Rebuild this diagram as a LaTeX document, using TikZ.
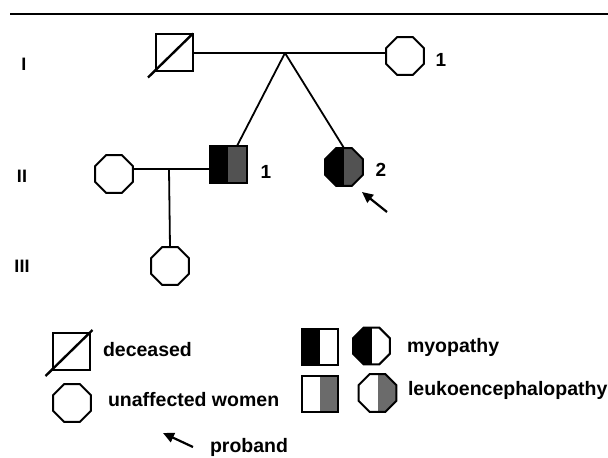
\documentclass[tikz,border=0pt]{standalone}
\usepackage{fontspec}
\setmainfont{Liberation Sans}
\usetikzlibrary{shapes.geometric,arrows.meta,calc}
\begin{document}
\begin{tikzpicture}[x=1pt,y=1pt,
  every node/.style={inner sep=0pt, outer sep=0pt},
  lw/.style={line width=2pt},
  sq/.style={draw, lw, minimum size=37pt, rectangle},
  oct/.style={draw, lw, regular polygon, regular polygon sides=8, minimum size=41pt},
  halves/.style 2 args={path picture={
    \fill[#1] (path picture bounding box.south west) rectangle (path picture bounding box.north);
    \fill[#2] (path picture bounding box.south) rectangle (path picture bounding box.north east);}},
  conn/.style={line width=1.8pt},
  arr/.style={line width=2.2pt, -{Triangle[length=11pt,width=10pt]}},
  gen/.style={font=\fontsize{18}{20}\selectfont\bfseries},
  num/.style={font=\fontsize{19}{20}\selectfont\bfseries},
  leg/.style={font=\fontsize{19.5}{21}\selectfont\bfseries, anchor=west}
]
\useasboundingbox (0,0) rectangle (608,-458);
\coordinate (tl) at (10,-14);
\coordinate (tr) at (608,-14);
\draw[line width=2.4pt] (tl) -- (tr);

% generation labels
\node[gen] (gI) at (24,-64) {I};
\node[gen] (gII) at (22,-176) {II};
\node[gen] (gIII) at (22,-266) {III};

% generation I
\node[sq] (I1) at (174.5,-52) {};
\node[oct] (I2) at (405,-56) {};
\node[num] (lI2) at (441,-60) {1};
\coordinate (dI1a) at ($(I1.south west)+(-8,-7)$);
\draw[line width=2.4pt] (dI1a) -- (I1.north east);
\draw[conn] (I1.east |- 0,-53) coordinate (mI) -- (I2.west |- mI);
\coordinate (sib) at (285,-53);

% generation II
\node[sq, halves={black}{black!68}] (II1) at (228,-164) {};
\node[oct, halves={black}{black!68}] (II2) at (344,-167) {};
\node[oct] (IIs) at (114,-174) {};
\node[num] (lII1) at (266,-172) {1};
\node[num] (lII2) at (381,-170) {2};
\coordinate (II1top) at ($(II1.north)!0.5!(II1.north east)$);
\draw[conn] (sib) -- (II1top);
\draw[conn] (sib) -- (II2.north);
\coordinate (m2) at (169,-169);
\draw[conn] (IIs.east |- m2) -- (II1.west |- m2);
\coordinate (pa) at (387,-212);
\coordinate (pb) at (362,-192);
\draw[arr] (pa) -- (pb);

% generation III
\node[oct] (III1) at (170,-266) {};
\draw[conn] (m2) -- (III1.north);

% legend
\node[sq] (Ldec) at (71,-351.5) {};
\coordinate (dLa) at ($(Ldec.south west)+(-7,-6)$);
\coordinate (dLb) at ($(Ldec.north east)+(3,3)$);
\draw[line width=2.4pt] (dLa) -- (dLb);
\node[leg] (tdec) at (103,-350) {deceased};

\node[oct] (Lun) at (72,-403) {};
\node[leg] (tun) at (108,-400) {unaffected women};

\coordinate (qa) at (193,-447);
\coordinate (qb) at (163,-433);
\draw[arr] (qa) -- (qb);
\node[leg, anchor=base west] (tpro) at (210,-452) {proband};

\node[sq, minimum size=36pt, halves={black}{white}] (Lmsq) at (319.5,-346.5) {};
\node[oct, minimum size=40pt, halves={black}{white}] (Lmoc) at (371.5,-346) {};
\node[leg] (tmyo) at (407,-347) {myopathy};

\node[sq, minimum size=36pt, halves={white}{black!58}] (Llsq) at (320,-393.5) {};
\node[oct, halves={white}{black!58}] (Lloc) at (377.5,-393) {};
\node[leg] (tleu) at (408,-390) {leukoencephalopathy};
\end{tikzpicture}
\end{document}
